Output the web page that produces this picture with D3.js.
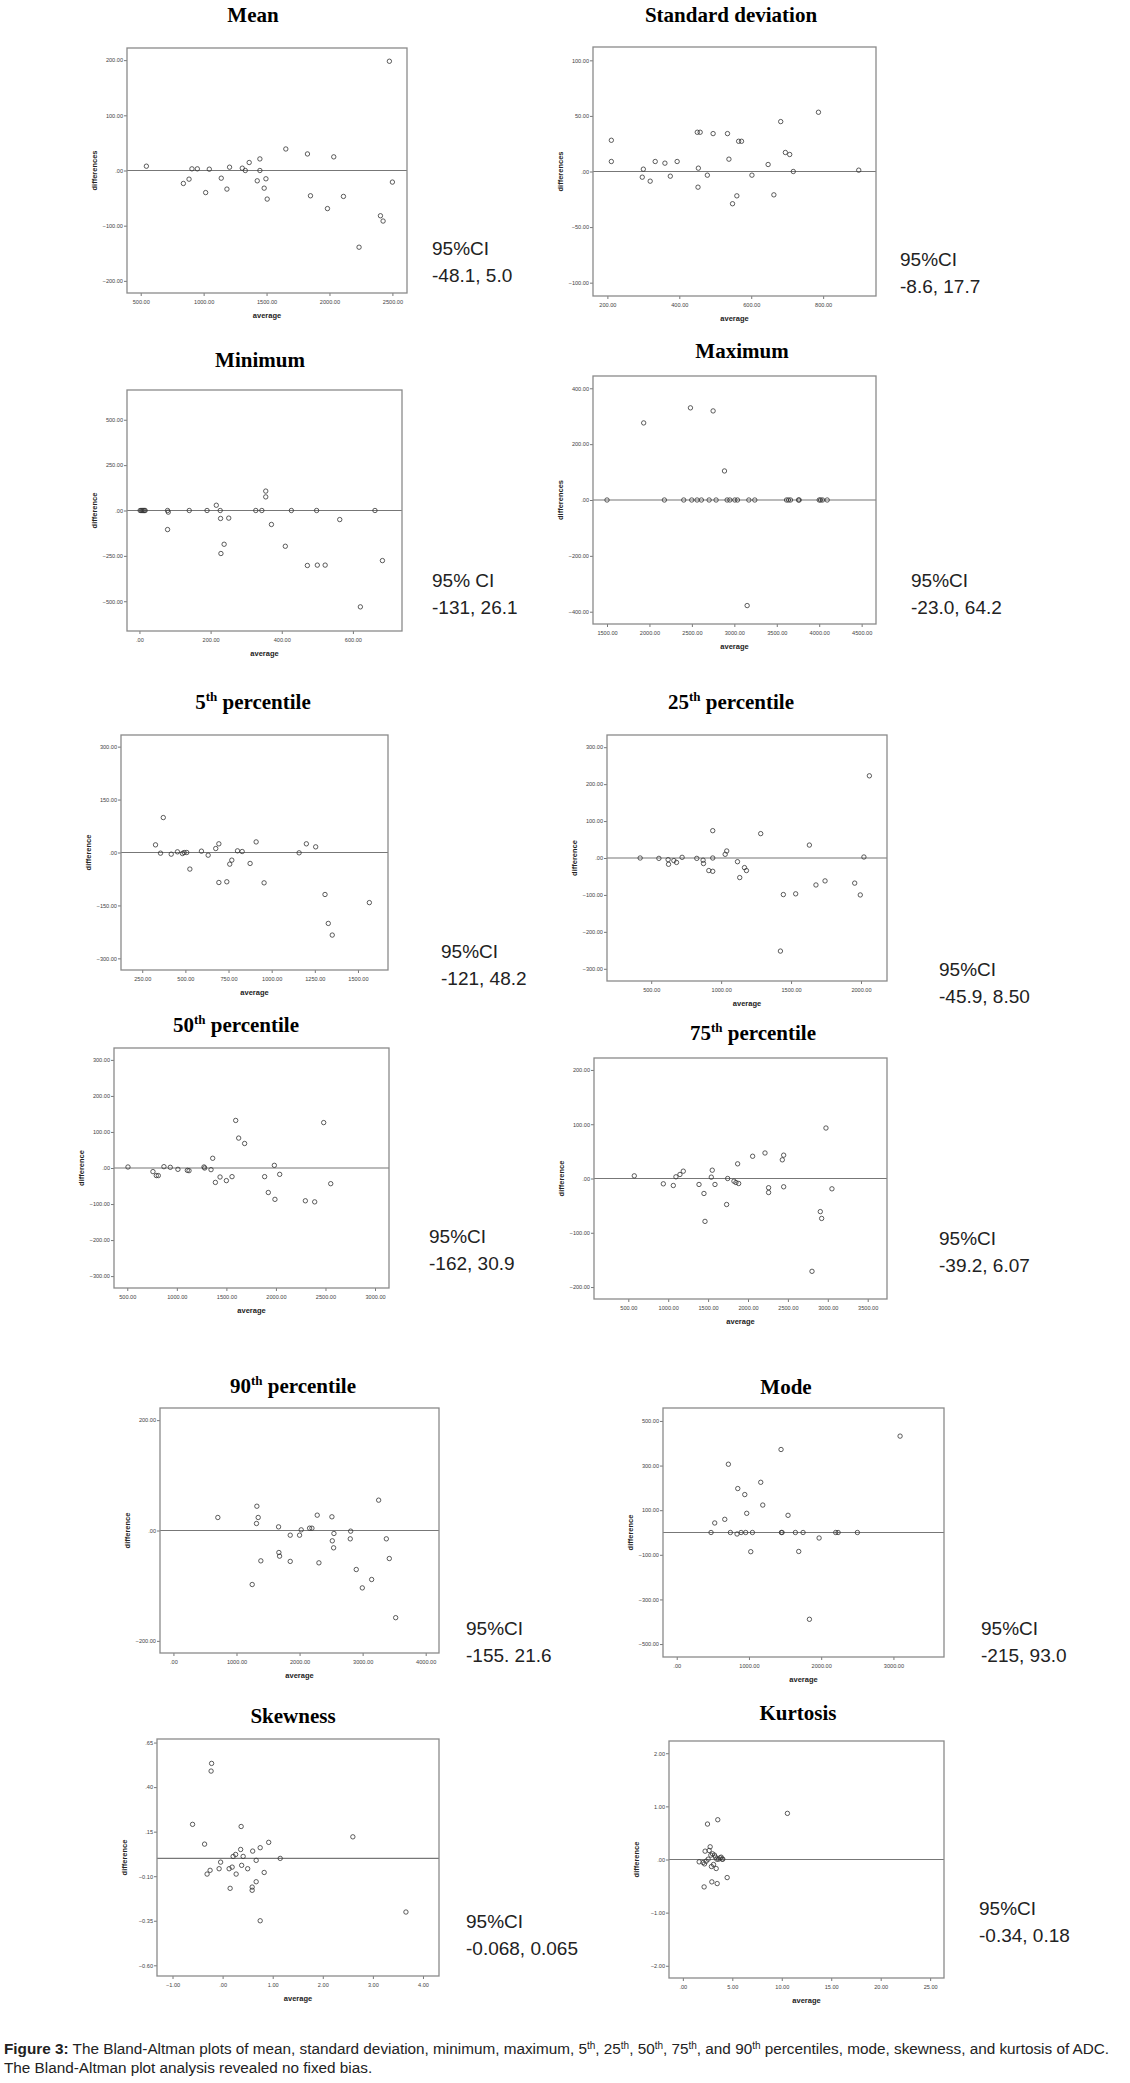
<!DOCTYPE html>
<html>
<head>
<meta charset="utf-8">
<script src="https://cdnjs.cloudflare.com/ajax/libs/d3/7.8.5/d3.min.js"></script>
<style>
  body { margin: 0; background: #fff; }
  svg text { font-family: "Liberation Sans", Arial, sans-serif; }
</style>
</head>
<body>
<svg id="fig"></svg>
<script>
// values (average, difference)
const meanAvg = [545, 839, 884, 907, 950, 1016, 1045, 1140, 1185, 1206, 1307, 1331, 1362, 1426, 1447, 1447, 1481, 1495, 1505, 1653, 1825, 1849, 1984, 2034, 2111, 2235, 2405, 2426, 2476, 2500];
const meanDiff = [7.8, -23.5, -15.7, 3, 3, -40, 2.4, -13.9, -33.7, 6, 4.2, 0, 14.5, -18.7, 21, 0, -32, -15, -51.8, 39, 30, -45.8, -69, 24.7, -47, -139, -82, -91.6, 198, -21];

const sdAvg = [211, 211, 297, 300, 319, 333, 360, 375, 394, 450, 453, 452, 458, 478, 494, 534, 538, 548, 560, 565, 573, 602, 647, 663, 682, 695, 707, 717, 787, 899];
const sdDiff = [28.1, 9, -5.1, 2.1, -8.7, 9, 7.5, -4.2, 9, 35.3, 3, -14.1, 35.3, -3.3, 34.1, 34.1, 11.1, -29, -21.9, 27.2, 27.2, -3.3, 6.3, -21, 44.9, 17.1, 15.3, 0, 53.3, 1.2];

const minAvg = [2, 5, 8, 11, 14, 16, 79, 81, 79, 140, 190, 216, 227, 228, 229, 238, 251, 327, 344, 355, 355, 371, 410, 427, 472, 498, 500, 522, 563, 621, 662, 683];
const minDiff = [0, 0, 0, 0, 0, 0, 0, -9, -105, 0, 0, 29, 0, -44, -237, -186, -42, 0, 0, 107, 75, -77, -197, 0, -303, 0, -301, -301, -50, -531, 0, -276];

const maxAvg = [1500, 1932, 2176, 2404, 2483, 2498, 2561, 2612, 2703, 2750, 2785, 2884, 2915, 2947, 3006, 3037, 3151, 3171, 3241, 3615, 3638, 3662, 3756, 3764, 4000, 4016, 4039, 4094];
const maxDiff = [0, 276, 0, 0, 330, 0, 0, 0, 0, 319, 0, 104, 0, 0, 0, 0, -378, 0, 0, 0, 0, 0, 0, 0, 0, 0, 0, 0];

const p5Avg = [327, 356, 372, 418, 454, 483, 493, 508, 526, 593, 632, 676, 694, 694, 740, 757, 769, 802, 829, 875, 910, 956, 1159, 1201, 1255, 1309, 1328, 1351, 1566];
const p5Diff = [21.7, -1.9, 99, -4.7, 1.9, -2.8, 0, 0, -47, 3.8, -7.6, 11.3, 24.6, -85, -83, -33, -21.7, 4.7, 2.8, -31, 30, -86, -0.9, 24.6, 16, -119, -201, -234, -142];

const p25Avg = [421, 555, 621, 624, 662, 681, 721, 826, 871, 874, 912, 940, 940, 940, 1029, 1040, 1117, 1133, 1167, 1181, 1283, 1445, 1424, 1533, 1631, 1678, 1743, 1955, 1995, 2021, 2060];
const p25Diff = [0, -1, -4.5, -17, -7, -12, 1.8, -1, -6, -15, -34, 74, 0, -36, 10, 19, -10, -53, -26, -34, 66, -99, -252, -97, 35, -73, -62, -68, -100, 2.7, 222.5];

const p50Avg = [507, 759, 793, 813, 870, 934, 1011, 1106, 1123, 1274, 1281, 1345, 1362, 1389, 1436, 1500, 1557, 1594, 1624, 1684, 1886, 1923, 1984, 1990, 2038, 2297, 2391, 2482, 2553];
const p50Diff = [2.8, -10, -21, -21, 3.7, 1.9, -3.7, -6.5, -7.4, 2.8, 0, -4.6, 27, -40, -25, -35, -24, 132, 83, 68, -24, -68, 7.4, -87, -17.6, -91, -94, 126, -43.5];

const p75Avg = [575, 939, 1064, 1097, 1147, 1189, 1386, 1448, 1461, 1540, 1552, 1586, 1732, 1745, 1824, 1849, 1883, 1870, 2058, 2213, 2258, 2258, 2430, 2447, 2447, 2802, 2906, 2923, 2977, 3052];
const p75Diff = [4.9, -9.8, -12.9, 3.1, 7.4, 13.5, -11, -27.6, -79, 2.5, 15.3, -11, -47.9, 0, -4.9, -7.4, -9.2, 27, 41, 47, -17, -25.8, 34.4, 43, -15.3, -171, -61, -73.6, 93, -19];

const p90Avg = [704, 1249, 1317, 1323, 1344, 1386, 1667, 1672, 1683, 1852, 1852, 2000, 2026, 2159, 2196, 2280, 2307, 2513, 2519, 2545, 2540, 2804, 2810, 2899, 2995, 3143, 3254, 3376, 3423, 3524];
const p90Diff = [23.6, -97.9, 12.7, 44, 23.6, -55, 6.6, -39.9, -46.5, -8.5, -56, -8.5, 1.2, 4.2, 4.2, 27.8, -58.6, 24.8, -18.7, -5.4, -31.4, -15.1, -1.2, -70.7, -104, -88.8, 55, -15.1, -50.8, -158];

const modeAvg = [475, 526, 665, 715, 743, 835, 845, 891, 942, 955, 969, 1025, 1048, 1163, 1191, 1444, 1449, 1458, 1541, 1643, 1689, 1749, 1837, 1971, 2201, 2234, 2501, 3092];
const modeDiff = [0, 42.7, 59, 306, 0, -6.7, 197, 0, 170, 0, 86, -86, 0, 225, 123, 372, 0, 0, 77, 0, -85, 0, -389, -24.7, 0, 0, 0, 432];

const skewAvg = [-0.60, -0.36, -0.31, -0.25, -0.23, -0.22, -0.07, -0.04, 0.13, 0.15, 0.19, 0.21, 0.26, 0.27, 0.36, 0.37, 0.38, 0.41, 0.50, 0.59, 0.59, 0.60, 0.67, 0.67, 0.75, 0.75, 0.83, 0.92, 1.15, 2.60, 3.66];
const skewDiff = [0.191, 0.080, -0.088, -0.067, 0.490, 0.533, -0.058, -0.021, -0.058, -0.168, -0.049, 0.011, 0.022, -0.088, 0.050, 0.179, -0.039, 0.011, -0.058, -0.161, -0.179, 0.041, -0.011, -0.131, 0.060, -0.350, -0.079, 0.090, 0, 0.121, -0.301];

const kurtAvg = [1.65, 2.05, 2.19, 2.15, 2.25, 2.36, 2.49, 2.56, 2.66, 2.76, 2.83, 2.89, 2.93, 3.00, 3.10, 3.20, 3.30, 3.37, 3.43, 3.47, 3.53, 3.60, 3.77, 3.87, 3.97, 4.04, 4.48, 10.57];
const kurtDiff = [-0.044, -0.057, -0.082, -0.516, 0.157, -0.031, 0.667, 0.006, 0.170, 0.239, 0.082, -0.132, -0.421, 0.107, -0.094, 0.082, 0.044, -0.170, 0.006, -0.453, 0.748, 0.006, 0.031, 0.044, 0.006, 0.006, -0.340, 0.868];

// axis extents and ticks
const meanX = [391, 2616], meanY = [-222, 222];
const sdX = [160, 947], sdY = [-112, 112];
const minX = [-35, 738], minY = [-664, 664];
const maxX = [1335, 4669], maxY = [-444, 444];
const p5X = [127, 1674], p5Y = [-333, 333];
const p25X = [184, 2186], p25Y = [-333, 333];
const p50X = [366, 3141], p50Y = [-333, 333];
const p75X = [70, 3742], p75Y = [-222, 222];
const p90X = [-213, 4211], p90Y = [-222, 222];
const modeX = [-190, 3700], modeY = [-558, 558];
const skewX = [-1.31, 4.32], skewY = [-0.66, 0.67];
const kurtX = [-1.4, 26.4], kurtY = [-2.23, 2.23];

const meanXTicks = [500, 1000, 1500, 2000, 2500], meanYTicks = [200, 100, 0, -100, -200];
const sdXTicks = [200, 400, 600, 800], sdYTicks = [100, 50, 0, -50, -100];
const minXTicks = [0, 200, 400, 600], minYTicks = [500, 250, 0, -250, -500];
const maxXTicks = [1500, 2000, 2500, 3000, 3500, 4000, 4500], maxYTicks = [400, 200, 0, -200, -400];
const p5XTicks = [250, 500, 750, 1000, 1250, 1500], p5YTicks = [300, 150, 0, -150, -300];
const p25XTicks = [500, 1000, 1500, 2000], p25YTicks = [300, 200, 100, 0, -100, -200, -300];
const p50XTicks = [500, 1000, 1500, 2000, 2500, 3000], p50YTicks = [300, 200, 100, 0, -100, -200, -300];
const p75XTicks = [500, 1000, 1500, 2000, 2500, 3000, 3500], p75YTicks = [200, 100, 0, -100, -200];
const p90XTicks = [0, 1000, 2000, 3000, 4000], p90YTicks = [200, 0, -200];
const modeXTicks = [0, 1000, 2000, 3000], modeYTicks = [500, 300, 100, -100, -300, -500];
const skewXTicks = [-1, 0, 1, 2, 3, 4], skewYTicks = [0.65, 0.40, 0.15, -0.10, -0.35, -0.60];
const kurtXTicks = [0, 5, 10, 15, 20, 25], kurtYTicks = [2, 1, 0, -1, -2];

const titles = [["Mean"], ["Standard deviation"], ["Minimum"], ["Maximum"],
  ["5", "th", " percentile"], ["25", "th", " percentile"], ["50", "th", " percentile"], ["75", "th", " percentile"],
  ["90", "th", " percentile"], ["Mode"], ["Skewness"], ["Kurtosis"]];
const yLabels = ["differences", "differences", "difference", "differences", "difference", "difference",
  "difference", "difference", "difference", "difference", "difference", "difference"];
const ciHead = ["95%CI", "95%CI", "95% CI", "95%CI", "95%CI", "95%CI", "95%CI", "95%CI", "95%CI", "95%CI", "95%CI", "95%CI"];
const ciRange = ["-48.1, 5.0", "-8.6, 17.7", "-131, 26.1", "-23.0, 64.2", "-121, 48.2", "-45.9, 8.50",
  "-162, 30.9", "-39.2, 6.07", "-155. 21.6", "-215, 93.0", "-0.068, 0.065", "-0.34, 0.18"];

const panels = [
  {avg: meanAvg, diff: meanDiff, xd: meanX, yd: meanY, xt: meanXTicks, yt: meanYTicks},
  {avg: sdAvg, diff: sdDiff, xd: sdX, yd: sdY, xt: sdXTicks, yt: sdYTicks},
  {avg: minAvg, diff: minDiff, xd: minX, yd: minY, xt: minXTicks, yt: minYTicks},
  {avg: maxAvg, diff: maxDiff, xd: maxX, yd: maxY, xt: maxXTicks, yt: maxYTicks},
  {avg: p5Avg, diff: p5Diff, xd: p5X, yd: p5Y, xt: p5XTicks, yt: p5YTicks},
  {avg: p25Avg, diff: p25Diff, xd: p25X, yd: p25Y, xt: p25XTicks, yt: p25YTicks},
  {avg: p50Avg, diff: p50Diff, xd: p50X, yd: p50Y, xt: p50XTicks, yt: p50YTicks},
  {avg: p75Avg, diff: p75Diff, xd: p75X, yd: p75Y, xt: p75XTicks, yt: p75YTicks},
  {avg: p90Avg, diff: p90Diff, xd: p90X, yd: p90Y, xt: p90XTicks, yt: p90YTicks},
  {avg: modeAvg, diff: modeDiff, xd: modeX, yd: modeY, xt: modeXTicks, yt: modeYTicks},
  {avg: skewAvg, diff: skewDiff, xd: skewX, yd: skewY, xt: skewXTicks, yt: skewYTicks},
  {avg: kurtAvg, diff: kurtDiff, xd: kurtX, yd: kurtY, xt: kurtXTicks, yt: kurtYTicks}
];

// where each panel sits on the page: box [left, right, top, bottom], title, CI note
const layout = [
  {box: [127, 407, 48, 293], title: [253, 22], ci: [432, 255]},
  {box: [593, 876, 47, 296], title: [731, 22], ci: [900, 266]},
  {box: [127, 402, 390, 631], title: [260, 367], ci: [432, 587]},
  {box: [593, 876, 376, 624], title: [742, 358], ci: [911, 587]},
  {box: [121, 388, 735, 970], title: [253, 709], ci: [441, 958]},
  {box: [607, 887, 735, 981], title: [731, 709], ci: [939, 976]},
  {box: [114, 389, 1048, 1288], title: [236, 1032], ci: [429, 1243]},
  {box: [594, 887, 1058, 1299], title: [753, 1040], ci: [939, 1245]},
  {box: [160, 439, 1408, 1653], title: [293, 1393], ci: [466, 1635]},
  {box: [663, 944, 1408, 1657], title: [786, 1394], ci: [981, 1635]},
  {box: [157, 439, 1739, 1976], title: [293, 1723], ci: [466, 1928]},
  {box: [669, 944, 1741, 1978], title: [798, 1720], ci: [979, 1915]}
];

const W = 1130, H = 2083;
const fmt = v => d3.format('.2f')(v).replace(/^(-?)0\./, '$1.');

const svg = d3.select('#fig').attr('width', W).attr('height', H);
svg.append('rect').attr('width', W).attr('height', H).attr('fill', '#fff');

function styleAxis(sel) {
  sel.select('.domain').remove();
  sel.selectAll('.tick line').attr('stroke', '#555').attr('stroke-width', 0.8);
  sel.selectAll('.tick text').attr('fill', '#444').style('font-size', '5.6px');
}

panels.forEach((p, i) => {
  const L = layout[i];
  const [x0, x1, y0, y1] = L.box;
  const x = d3.scaleLinear().domain(p.xd).range([x0, x1]);
  const y = d3.scaleLinear().domain(p.yd).range([y1, y0]);
  const g = svg.append('g');

  const t = g.append('text')
    .attr('x', L.title[0]).attr('y', L.title[1])
    .attr('text-anchor', 'middle')
    .style('font-family', '"Liberation Serif", "Times New Roman", serif')
    .style('font-weight', 'bold').style('font-size', '21px').attr('fill', '#000');
  t.append('tspan').text(titles[i][0]);
  if (titles[i][1]) {
    t.append('tspan').attr('dy', -8).style('font-size', '13px').text(titles[i][1]);
    t.append('tspan').attr('dy', 8).text(titles[i][2]);
  }

  g.append('g').attr('transform', 'translate(' + x0 + ',0)')
    .call(d3.axisLeft(y).tickValues(p.yt).tickFormat(fmt).tickSize(3).tickPadding(1))
    .call(styleAxis);
  g.append('g').attr('transform', 'translate(0,' + y1 + ')')
    .call(d3.axisBottom(x).tickValues(p.xt).tickFormat(fmt).tickSize(3).tickPadding(4))
    .call(styleAxis);

  g.append('line')
    .attr('x1', x0).attr('x2', x1).attr('y1', y(0)).attr('y2', y(0))
    .attr('stroke', '#777').attr('stroke-width', 1.2);

  g.append('rect')
    .attr('x', x0).attr('y', y0).attr('width', x1 - x0).attr('height', y1 - y0)
    .attr('fill', 'none').attr('stroke', '#8a8a8a').attr('stroke-width', 1.3);

  g.selectAll('circle').data(d3.zip(p.avg, p.diff)).join('circle')
    .attr('cx', d => x(d[0])).attr('cy', d => y(d[1])).attr('r', 2.2)
    .attr('fill', 'none').attr('stroke', '#333').attr('stroke-width', 0.8);

  g.append('text')
    .attr('x', (x0 + x1) / 2).attr('y', y1 + 25)
    .attr('text-anchor', 'middle').style('font-size', '7.5px').style('font-weight', 'bold')
    .attr('fill', '#222').text('average');
  g.append('text')
    .attr('transform', 'translate(' + (x0 - 30) + ',' + ((y0 + y1) / 2) + ') rotate(-90)')
    .attr('text-anchor', 'middle').style('font-size', '7.5px').style('font-weight', 'bold')
    .attr('fill', '#222').text(yLabels[i]);

  const ci = g.append('text').attr('x', L.ci[0]).attr('y', L.ci[1])
    .style('font-size', '19px').attr('fill', '#222');
  ci.append('tspan').text(ciHead[i]);
  ci.append('tspan').attr('x', L.ci[0]).attr('dy', 27).text(ciRange[i]);
});

// caption
const cap = svg.append('text').attr('x', 4).attr('y', 2054)
  .style('font-size', '15.3px').attr('fill', '#222');
const capParts = [["Figure 3:", "b"], [" The Bland-Altman plots of mean, standard deviation, minimum, maximum, 5"], ["th", "s"],
  [", 25"], ["th", "s"], [", 50"], ["th", "s"], [", 75"], ["th", "s"], [", and 90"], ["th", "s"],
  [" percentiles, mode, skewness, and kurtosis of ADC."]];
let raised = false;
capParts.forEach(([txt, kind]) => {
  const s = cap.append('tspan').text(txt);
  if (kind === 'b') s.style('font-weight', 'bold');
  if (kind === 's') { s.attr('dy', -5).style('font-size', '10px'); raised = true; }
  else if (raised) { s.attr('dy', 5); raised = false; }
});
svg.append('text').attr('x', 4).attr('y', 2073)
  .style('font-size', '15.3px').attr('fill', '#222')
  .text('The Bland-Altman plot analysis revealed no fixed bias.');
</script>
</body>
</html>
